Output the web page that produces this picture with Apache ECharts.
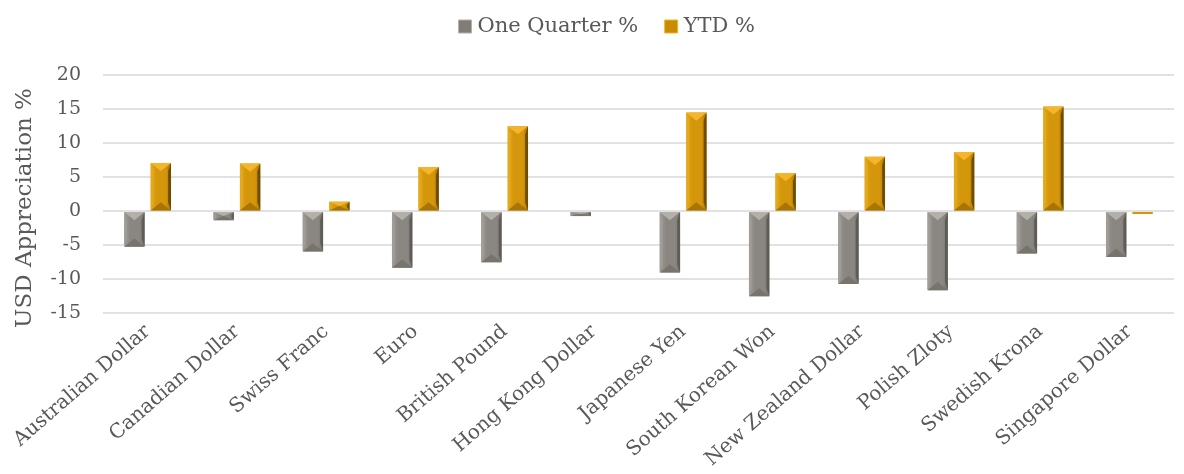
<!DOCTYPE html>
<html>
<head>
<meta charset="utf-8">
<style>
  html, body { margin: 0; padding: 0; background: #ffffff; }
  #chart { width: 1184px; height: 474px; }
</style>
<script src="https://cdn.jsdelivr.net/npm/echarts@6/dist/echarts.min.js"></script>
</head>
<body>
<div id="chart"></div>
<script>
// Currency appreciation of the USD against major currencies
const categories = [
  'Australian Dollar', 'Canadian Dollar', 'Swiss Franc', 'Euro', 'British Pound',
  'Hong Kong Dollar', 'Japanese Yen', 'South Korean Won', 'New Zealand Dollar',
  'Polish Zloty', 'Swedish Krona', 'Singapore Dollar'
];
const oneQuarter = [-5.1, -1.2, -5.8, -8.2, -7.4, -0.6, -8.9, -12.4, -10.6, -11.5, -6.1, -6.6];
const ytd = [7.0, 6.9, 1.3, 6.4, 12.4, 0, 14.4, 5.5, 7.9, 8.6, 15.3, -0.3];
const yTicks = { min: -15, max: 20, interval: 5 };

const FONT = '"DejaVu Serif", "Liberation Serif", serif';
const TEXT = '#595959';

// Shades for the bevelled bars: body, lighter top cap / left edge, darker bottom cap / right edge
const palettes = [
  { body: '#8a8681', light: '#b3afa9', edge: '#a09c96', dark: '#5f5b56', base: '#77736d' },
  { body: '#d4960a', light: '#f4b52c', edge: '#e4aa1e', dark: '#6e4c00', base: '#a87405' }
];

function bevelBar(seriesPos) {
  return function (params, api) {
    const cat = api.value(0);
    const v = api.value(1);
    const zero = api.coord([cat, 0]);
    const end = api.coord([cat, v]);
    const band = api.size([1, 0])[0];
    const bw = band * 0.228;
    const gap = bw * 0.3;
    const cx = zero[0] + seriesPos * (bw + gap) / 2;
    const x0 = cx - bw / 2, x1 = cx + bw / 2;
    let yT = Math.min(zero[1], end[1]);
    let yB = Math.max(zero[1], end[1]);
    if (v < 0) { yT += 1; yB += 1; } else { yT -= 0.5; yB -= 0.5; }
    const h = yB - yT;
    if (h < 0.5) return null;
    const pal = palettes[seriesPos < 0 ? 0 : 1];
    if (h < 4) {
      return { type: 'rect', shape: { x: x0, y: yT, width: bw, height: h }, style: { fill: pal.body } };
    }
    const t = Math.min(bw * 0.4, h / 2);
    const s = Math.min(bw * 0.14, h / 2);
    return {
      type: 'group',
      children: [
        // body with a soft horizontal shading
        { type: 'rect', shape: { x: x0, y: yT, width: bw, height: h },
          style: { fill: new echarts.graphic.LinearGradient(0, 0, 1, 0, [
            { offset: 0, color: pal.edge },
            { offset: 0.3, color: pal.body },
            { offset: 0.75, color: pal.body },
            { offset: 1, color: pal.base }
          ]) } },
        // left lit edge
        { type: 'polygon', shape: { points: [[x0, yT], [x0 + s, yT + t], [x0 + s, yB - t], [x0, yB]] },
          style: { fill: pal.edge } },
        // right shaded edge
        { type: 'polygon', shape: { points: [[x1, yT], [x1, yB], [x1 - s, yB - t], [x1 - s, yT + t]] },
          style: { fill: pal.dark } },
        // bottom cap
        { type: 'polygon', shape: { points: [[x0, yB], [x1, yB], [cx, yB - t]] },
          style: { fill: pal.base } },
        // top cap
        { type: 'polygon', shape: { points: [[x0, yT], [x1, yT], [cx, yT + t]] },
          style: { fill: pal.light } }
      ]
    };
  };
}

const chart = echarts.init(document.getElementById('chart'), null, { renderer: 'canvas' });

chart.setOption({
  animation: false,
  backgroundColor: '#ffffff',
  legend: {
    top: 11,
    left: 453,
    itemWidth: 13,
    itemHeight: 13,
    itemGap: 26,
    icon: 'rect',
    textStyle: { fontFamily: FONT, fontSize: 21, color: TEXT, padding: [0, 0, 0, 1] },
    data: [
      { name: 'One Quarter %', itemStyle: { color: '#807c76', borderColor: '#b4b0aa', borderWidth: 1 } },
      { name: 'YTD %', itemStyle: { color: '#c88c00', borderColor: '#f2b42a', borderWidth: 1 } }
    ]
  },
  grid: { left: 103, right: 10, top: 75, bottom: 161 },
  xAxis: {
    type: 'category',
    data: categories,
    axisLine: { show: false },
    axisTick: { show: false },
    axisLabel: {
      interval: 0,
      rotate: 41,
      margin: 16,
      fontFamily: FONT,
      fontSize: 20,
      color: TEXT
    }
  },
  yAxis: {
    type: 'value',
    min: yTicks.min,
    max: yTicks.max,
    interval: yTicks.interval,
    name: 'USD Appreciation %',
    nameLocation: 'middle',
    nameGap: 66,
    nameTextStyle: { fontFamily: FONT, fontSize: 23, color: TEXT, padding: [0, 28, 0, 0] },
    axisLine: { show: false },
    axisTick: { show: false },
    axisLabel: { fontFamily: FONT, fontSize: 19, color: TEXT, margin: 22 },
    splitLine: { lineStyle: { color: '#d9d9d9', width: 1.5 } }
  },
  series: [
    {
      name: 'One Quarter %',
      type: 'custom',
      itemStyle: { color: '#807c76' },
      renderItem: bevelBar(-1),
      encode: { x: 0, y: 1 },
      data: oneQuarter.map((v, i) => [i, v])
    },
    {
      name: 'YTD %',
      type: 'custom',
      itemStyle: { color: '#c88c00' },
      renderItem: bevelBar(1),
      encode: { x: 0, y: 1 },
      data: ytd.map((v, i) => [i, v])
    }
  ]
});
</script>
</body>
</html>
